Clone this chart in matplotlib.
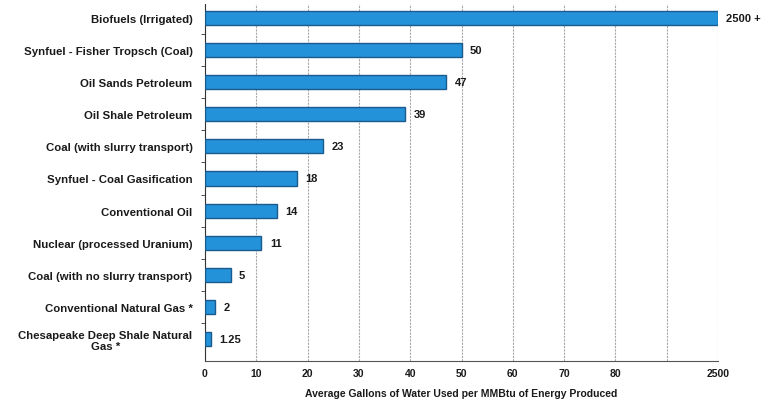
import numpy as np
import matplotlib.pyplot as plt

categories = [
    "Biofuels (Irrigated)",
    "Synfuel - Fisher Tropsch (Coal)",
    "Oil Sands Petroleum",
    "Oil Shale Petroleum",
    "Coal (with slurry transport)",
    "Synfuel - Coal Gasification",
    "Conventional Oil",
    "Nuclear (processed Uranium)",
    "Coal (with no slurry transport)",
    "Conventional Natural Gas *",
    "Chesapeake Deep Shale Natural\nGas *",
]
values = [2500, 50, 47, 39, 23, 18, 14, 11, 5, 2, 1.25]
value_labels = ["2500 +", "50", "47", "39", "23", "18", "14", "11", "5", "2", "1.25"]

tick_values = [0, 10, 20, 30, 40, 50, 60, 70, 80, 90, 2500]
tick_labels = ["0", "10", "20", "30", "40", "50", "60", "70", "80", "", "2500"]

# broken axis: linear up to 90, then 90..2500 squeezed into one grid step
BREAK = 90.0
TOP = 2500.0


def fwd(x):
    x = np.asarray(x, dtype=float)
    return np.where(x <= BREAK, x, BREAK + (x - BREAK) * 10.0 / (TOP - BREAK))


def inv(y):
    y = np.asarray(y, dtype=float)
    return np.where(y <= BREAK, y, BREAK + (y - BREAK) * (TOP - BREAK) / 10.0)


plt.rcParams['font.family'] = ['Liberation Sans', 'DejaVu Sans']

fig = plt.figure(figsize=(7.64, 4.10), dpi=100)
ax = fig.add_axes([205 / 764, 1 - 362 / 410, (718 - 205) / 764, (362 - 5) / 410])
ax.set_xscale('function', functions=(fwd, inv))

y = np.arange(len(categories))
ax.barh(y, values, height=0.44, color='#2392d8', edgecolor='#1b5a8e',
        linewidth=1.0, zorder=3)

for yi, v, lab in zip(y, values, value_labels):
    ax.annotate(lab, (v, yi), xytext=(6, 0), textcoords='offset points',
                va='center', ha='left', fontsize=8, fontweight='bold',
                color='#1a1a1a')

ax.set_xlim(0, TOP)
ax.set_ylim(len(categories) - 1 + 0.69, -0.44)

ax.set_xticks(tick_values)
ax.set_xticklabels(tick_labels, fontsize=7.5, fontweight='bold', color='#1a1a1a')
ax.tick_params(axis='x', length=0, pad=5)

ax.set_yticks(y)
ax.set_yticklabels(categories, fontsize=8.2, fontweight='bold', color='#1a1a1a',
                   multialignment='center')
ax.tick_params(axis='y', length=0, pad=9)
ax.set_yticks(np.arange(len(categories) - 1) + 0.5, minor=True)
ax.tick_params(axis='y', which='minor', length=3, color='#333333')

ax.grid(axis='x', color='#a8a8a8', linewidth=0.8, linestyle=(0, (2, 1)), zorder=0)

for side in ['top', 'right']:
    ax.spines[side].set_visible(False)
ax.spines['left'].set_color('#333333')
ax.spines['bottom'].set_color('#555555')

ax.set_xlabel("Average Gallons of Water Used per MMBtu of Energy Produced",
              fontsize=7.5, fontweight='bold', color='#1a1a1a', labelpad=7)

fig.savefig('out.png', dpi=100)
